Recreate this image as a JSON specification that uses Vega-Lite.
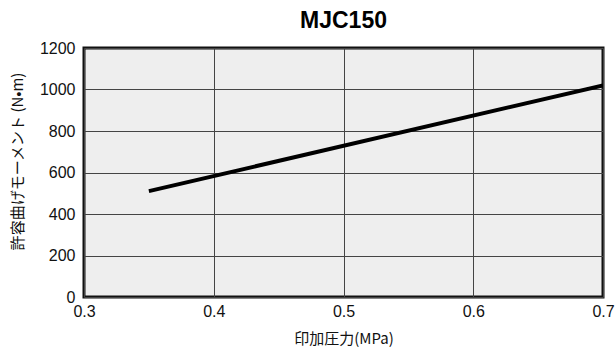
{
  "$schema": "https://vega.github.io/schema/vega-lite/v6.json",
  "width": 519,
  "height": 249,
  "autosize": {"type": "none"},
  "padding": {"left": 84, "top": 48, "right": 12, "bottom": 50},
  "background": "white",
  "title": {"text": "MJC150", "font": "Liberation Sans", "fontSize": 23, "fontWeight": "bold", "color": "#000", "offset": 7, "anchor": "middle"},
  "config": {
    "view": {"fill": "#eeeeee", "stroke": "#111", "strokeWidth": 3},
    "axis": {"labelFont": "Liberation Sans", "titleFont": "Noto Sans CJK JP", "labelColor": "#111", "titleColor": "#111", "gridColor": "#444", "gridOpacity": 1, "gridWidth": 1, "domain": false, "ticks": false}
  },
  "data": {"values": [
    {"p": 0.35, "m": 510},
    {"p": 0.7, "m": 1020}
  ]},
  "mark": {"type": "line", "color": "#000", "strokeWidth": 4, "clip": true},
  "encoding": {
    "x": {"field": "p", "type": "quantitative", "scale": {"domain": [0.3, 0.7], "nice": false, "zero": false},
      "axis": {"values": [0.3, 0.4, 0.5, 0.6, 0.7], "format": ".1f", "labelFontSize": 16, "labelPadding": 6, "title": "印加圧力(MPa)", "titleFontSize": 15, "titleFontWeight": "normal", "titlePadding": 12, "labelFlush": false}},
    "y": {"field": "m", "type": "quantitative", "scale": {"domain": [0, 1200], "nice": false},
      "axis": {"values": [0, 200, 400, 600, 800, 1000, 1200], "format": "d", "labelFontSize": 16, "labelPadding": 9, "title": "許容曲げモーメント (N•m)", "titleFontSize": 15, "titleFontWeight": "normal", "titleX": -67, "titleY": 113, "titleAlign": "center", "titleBaseline": "middle", "titleAngle": -90}}
  }
}
